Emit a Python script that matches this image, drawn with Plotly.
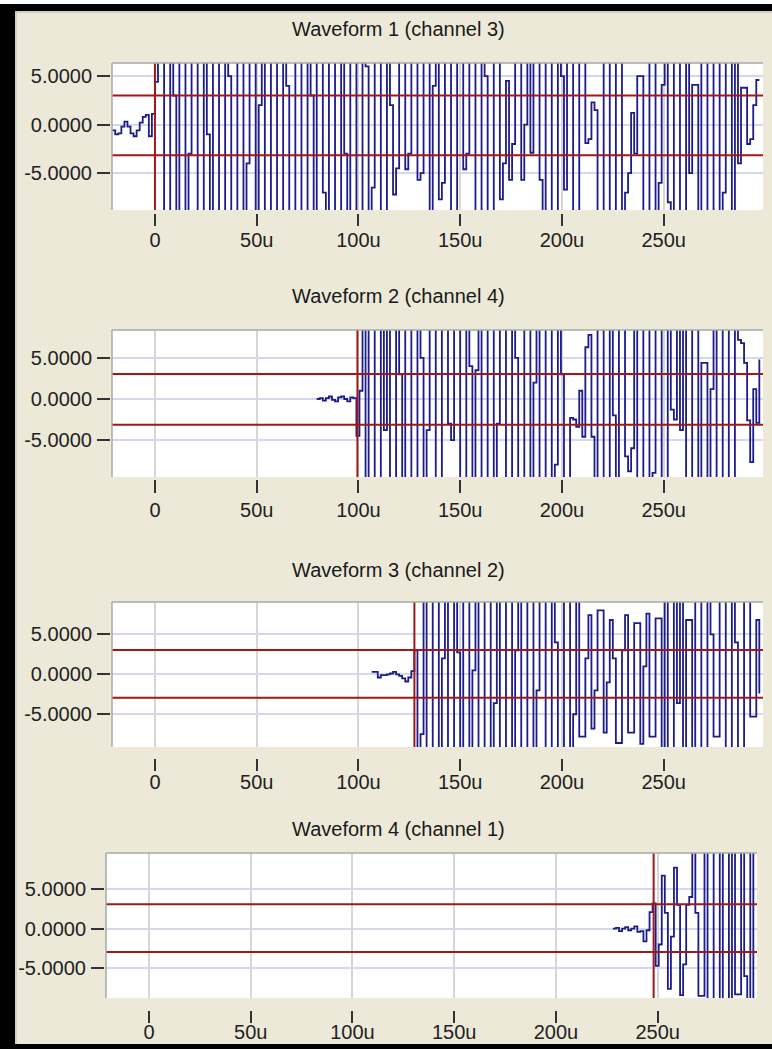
import plotly.graph_objects as go

# ---------------- data ----------------
SAMPLE_US = 1.5  # sample interval (microseconds)

titles = ["Waveform 1 (channel 3)", "Waveform 2 (channel 4)",
          "Waveform 3 (channel 2)", "Waveform 4 (channel 1)"]
start_us = [-21.0, 79.5, 106.5, 228.0]
trigger_us = [0.0, 99.5, 127.5, 248.0]
thr_hi = [3.0, 3.05, 3.05, 3.1]
thr_lo = [-3.15, -3.15, -2.95, -2.95]

x_tickvals = [0, 50, 100, 150, 200, 250]
x_ticktext = ["0", "50u", "100u", "150u", "200u", "250u"]
y_tickvals = [-5, 0, 5]
y_ticktext = ["-5.0000", "0.0000", "5.0000"]

wave1 = [
    -0.6, -1.0, -0.9, -0.2, 0.3, -0.2, -0.9, -1.2, -0.6, 0.2, 0.8, 1.0, -1.2, 1.1,
    4.4, 12, 13, -12, -11, 11, 3, -12, 12, 8,
    -12, -3, 12, 12, -11, -12, 13, -1, -12, 11,
    12, -10, -13, 12, 5, -12, -12, 11, 13, -12,
    -4, 12, 12, -11, 2, 12, -12, -12, 13, 9,
    -11, -12, 12, 4, -12, -10, 12, 11, -12, -13,
    12, 3, -12, 13, 12, -7, -12, 12, 11, -12,
    -12, 12, -3, -12, 11, 13, -12, -12, 12, 6,
    -12, -6.5, 12, 12, -11, -12, 12, 2, -7.2, -4.5,
    12, 13, -4.6, -3, 11, 12, -5.7, -5, 12, 12,
    -12, 4, 12, -7.7, -6, 12, 10, -11, -12, 13,
    12, -4.6, -3, 12, 11, -12, -12, 12, 5, -12,
    -12, 12, 12, -7.7, -4, 4.5, -5.7, -2, 12, 12,
    -5.7, 0, 12, -2.9, 12, 11, -5.7, -12, 12, 12,
    -12, -12, 12, 5, -6.7, 12, 12, -12, -12, 12,
    12, -1.9, -1.5, 2.3, 1.5, -12, -12, 12, 13, -10,
    -12, 12, 12, -12, -7, -5, 1.2, -3, 5, 5,
    -12, -12, 12, 12, -12, -6, 4.1, 12, -8, -12,
    12, 12, -12, -12, 12, -5, 4.1, 4.1, -12, 12,
    11, -12, -12, 12, 13, -12, -7, 12, 12, -12,
    12, -4, 3.8, 3.8, -2, -1.5, 2, 4.6, 4.6,
]

wave2 = [
    0.0, 0.1, -0.2, 0.1, 0.3, -0.1, -0.3, 0.2, 0.3, 0.0, -0.3, 0.2, 0.1, -4.5,
    1, 12, -12, 12, 11, -12, -11, 12, -3.8, 12,
    -12, -12, 12, 3, -12, 12, 12, -11, -12, 12,
    5, -12, -3.8, 12, 12, -12, -12, 12, 12, -3,
    -5, 12, 12, -12, -11, 12, 4, -12, 3.5, 12,
    -12, -12, 12, 12, -12, -3, 12, 13, -12, -12,
    12, 5, -12, -12, 12, 12, -11, 2, 12, -12,
    -12, 12, 12, -12, -8, 12, 3, -12, -12, -2.3,
    -2.5, -3.4, 1, -4.6, 6.3, 7.8, -4.6, -12, 12, 12,
    -12, -12, 12, -2, -12, 12, 12, -7, -8.8, -6,
    12, -12, -12, 12, 11, -12, -9, 12, 12, -12,
    -12, 12, -1.3, -2.5, 12, -3.8, 12, -12, -12, 12,
    12, -12, 4.4, 4.4, -12, 1.2, 12, -12, -12, 12,
    12, -12, -12, 12, 7.2, 6.8, 4.4, -2.6, -7.7, 1.2,
    -2.9, 4.8,
]

wave3 = [
    0.3, 0.3, -0.4, -0.1, -0.1, 0.0, 0.1, 0.3, 0.0, -0.2, -0.5, -0.9, -0.4, 0.4, 3.0,
    -12, -7.5, 12, -12, -12, 12, 12, -12, 2, 12,
    -12, -12, 12, 2.75, -12, 12, 12, -12, 0.5, 12,
    -12, -12, 12, 11, -12, -3.6, 12, -12, -12, 12,
    12, -12, 3, 12, -12, -12, 12, 12, -12, -2,
    12, 12, -12, -12, 12, 4, -12, -12, 12, 12,
    -12, -5, 12, -7.8, -7.8, 2, 7.4, -6.8, -2, 8,
    8, -7.3, -1, 6.8, 2, -8.6, -8.6, 3, 7.4, -7.3,
    -7.3, 6.4, 6.4, -8.7, 1, 7.6, -7.8, -7.8, 7.0, 7.0,
    -12, 12, -12, -12, 12, -3.6, 12, -12, 6.8, 6.8,
    -12, 12, 12, -12, -12, 12, 5, -7.8, -7.8, 12,
    12, -12, -12, 12, 4, -12, -12, 12, 12, -5.3,
    -5.3, 6.8, -2.4,
]

wave4 = [
    0.0, 0.1, -0.3, 0.0, 0.2, -0.2, 0.0, 0.3, -0.4, -0.3, -1.6, -0.2, 2.1, 3.2,
    -4.7, -2, 6.7, 2, -7.6, -1, 7.7, 3, -8.4, -4.5, 3, 4, 12, 2,
    -8.5, -8.5, 12, -12, -12, 12, 12, -12, 12, 12, -12, 12, -8.3, -8.3,
    12, -6, -12, 12, -12,
]

waves = [wave1, wave2, wave3, wave4]

# ---------------- layout geometry (pixels) ----------------
W, H = 772, 1049
boxes = [(112, 763, 63, 210), (112, 763, 330, 477),
         (112, 763, 602, 747), (106, 757, 853, 998)]
y_ranges = [(-8.8, 6.35), (-9.5, 8.4), (-9.1, 9.05), (-8.76, 9.56)]
x_range = (-21.1, 298.8)
title_y = [29, 296, 570, 829]
xtick_offset = [3, 2, 11, 12]
xtick_len = [12, 13, 12, 12]
xlabel_standoff = [-3, 0, -6, -8]

FONT = "Liberation Sans"
NAVY = "#1c1c8a"
RED = "#a01818"
BEIGE = "#ece9d8"

fig = go.Figure()
shapes = []
annotations = []


def px(x):
    return x / W


def py(y):
    return 1 - y / H


for i in range(4):
    n = i + 1
    sfx = "" if n == 1 else str(n)
    vals = waves[i]
    t = [start_us[i] + SAMPLE_US * k for k in range(len(vals))]
    fig.add_trace(go.Scatter(
        x=t, y=vals, mode="lines", line=dict(color=NAVY, width=1.8, shape="hv"),
        xaxis="x" + sfx, yaxis="y" + sfx, showlegend=False, hoverinfo="skip"))

    x0, x1, y0, y1 = boxes[i]
    fig.layout["xaxis" + sfx] = dict(
        domain=[px(x0), px(x1)], range=list(x_range),
        anchor="free", position=py(y1 + xtick_offset[i]),
        tickmode="array", tickvals=x_tickvals, ticktext=x_ticktext,
        ticks="outside", ticklen=xtick_len[i], tickwidth=2, tickcolor="#333333",
        ticklabelstandoff=xlabel_standoff[i],
        showgrid=True, gridcolor="#d6d6d6", gridwidth=1.5,
        zeroline=False, showline=False,
        tickfont=dict(family=FONT, size=20, color="#222222"),
    )
    fig.layout["yaxis" + sfx] = dict(
        domain=[py(y1), py(y0)], range=list(y_ranges[i]),
        anchor="free", position=px(x0 - 2),
        tickmode="array", tickvals=y_tickvals, ticktext=y_ticktext,
        ticks="outside", ticklen=13, tickwidth=2, tickcolor="#333333",
        ticklabelstandoff=1,
        showgrid=True, gridcolor="#d4d8ec", gridwidth=1.5,
        zeroline=False, showline=False,
        tickfont=dict(family=FONT, size=20, color="#222222"),
    )

    # threshold lines
    for thr in (thr_hi[i], thr_lo[i]):
        shapes.append(dict(type="line", xref="x" + sfx + " domain", yref="y" + sfx,
                           x0=0, x1=1, y0=thr, y1=thr, layer="above",
                           line=dict(color=RED, width=2)))
    # trigger line
    shapes.append(dict(type="line", xref="x" + sfx, yref="y" + sfx + " domain",
                       x0=trigger_us[i], x1=trigger_us[i], y0=0, y1=1, layer="above",
                       line=dict(color=RED, width=2)))
    # plot-area sunken border (top & left)
    shapes.append(dict(type="line", xref="paper", yref="paper",
                       x0=px(x0), x1=px(x1), y0=py(y0), y1=py(y0),
                       line=dict(color="#a8a8a8", width=1.5), layer="above"))
    shapes.append(dict(type="line", xref="paper", yref="paper",
                       x0=px(x0), x1=px(x0), y0=py(y0), y1=py(y1),
                       line=dict(color="#a8a8a8", width=1.5), layer="above"))

    annotations.append(dict(text=titles[i], xref="paper", yref="paper",
                            x=px(399), y=py(title_y[i]), xanchor="center", yanchor="middle",
                            showarrow=False, font=dict(family=FONT, size=20, color="#1a1a1a")))

# window frame
shapes += [
    dict(type="rect", xref="paper", yref="paper", x0=0, x1=1, y0=py(4), y1=1,
         fillcolor="white", line=dict(width=0), layer="below"),
    dict(type="rect", xref="paper", yref="paper", x0=0, x1=1, y0=py(11), y1=py(4),
         fillcolor="black", line=dict(width=0), layer="below"),
    dict(type="rect", xref="paper", yref="paper", x0=0, x1=px(15), y0=0, y1=py(4),
         fillcolor="black", line=dict(width=0), layer="below"),
    dict(type="rect", xref="paper", yref="paper", x0=0, x1=1, y0=0, y1=py(1044),
         fillcolor="black", line=dict(width=0), layer="below"),
    dict(type="line", xref="paper", yref="paper", x0=px(16), x1=px(16), y0=py(1044), y1=py(11),
         line=dict(color="#b8b8b8", width=1), layer="below"),
    dict(type="line", xref="paper", yref="paper", x0=px(15), x1=1, y0=py(12), y1=py(12),
         line=dict(color="#b8b8b8", width=1), layer="below"),
]

fig.update_layout(
    width=W, height=H, margin=dict(l=0, r=0, t=0, b=0),
    paper_bgcolor=BEIGE, plot_bgcolor="white",
    shapes=shapes, annotations=annotations, showlegend=False,
)

fig.write_html("out.html")
